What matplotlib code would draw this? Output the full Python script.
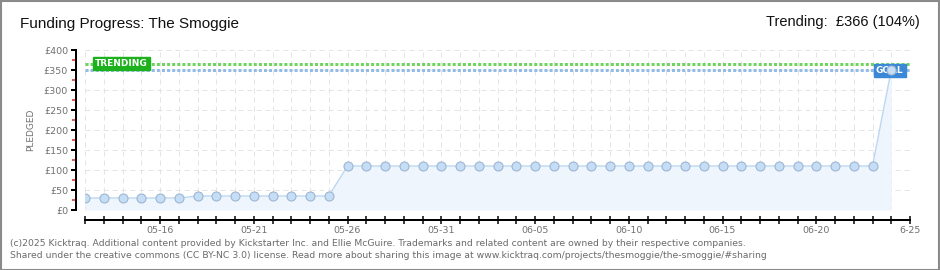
import matplotlib
matplotlib.use("Agg")
import matplotlib.pyplot as plt
import matplotlib.dates as mdates
import pandas as pd
from matplotlib.patches import Rectangle

# ---- data ----
start_date = "2025-05-12"
end_date = "2025-06-25"
pledged = [30, 30, 30, 30, 30, 30,
           35, 35, 35, 35, 35, 35, 35, 35,
           110, 110, 110, 110, 110, 110, 110, 110, 110, 110,
           110, 110, 110, 110, 110, 110, 110, 110, 110, 110,
           110, 110, 110, 110, 110, 110, 110, 110, 110,
           350]
goal = 350
trending = 366
y_ticks = [0, 50, 100, 150, 200, 250, 300, 350, 400]
y_tick_labels = ["£0", "£50", "£100", "£150", "£200", "£250", "£300", "£350", "£400"]
y_minor_ticks = [25, 75, 125, 175, 225, 275, 325, 375]
x_tick_dates = ["2025-05-16", "2025-05-21", "2025-05-26", "2025-05-31", "2025-06-05",
                "2025-06-10", "2025-06-15", "2025-06-20", "2025-06-25"]
x_tick_labels = ["05-16", "05-21", "05-26", "05-31", "06-05", "06-10", "06-15", "06-20", "6-25"]
title = "Funding Progress: The Smoggie"
trend_text = "Trending:  £366 (104%)"
footer1 = ("(c)2025 Kicktraq. Additional content provided by Kickstarter Inc. and Ellie McGuire. "
           "Trademarks and related content are owned by their respective companies.")
footer2 = ("Shared under the creative commons (CC BY-NC 3.0) license. Read more about sharing this "
           "image at www.kicktraq.com/projects/thesmoggie/the-smoggie/#sharing")

PX = 0.72  # points per pixel at dpi 100

dates = pd.date_range(start_date, periods=len(pledged), freq="D")

W, H = 940, 270
fig = plt.figure(figsize=(W / 100, H / 100), dpi=100)
fig.patch.set_facecolor("white")

# outer border
fig.add_artist(Rectangle((0.5 / W, 0.5 / H), 1 - 1.5 / W, 1 - 1.5 / H, transform=fig.transFigure,
                         fill=False, edgecolor="#8a8a8a", linewidth=1.5))

ax = fig.add_axes([85 / W, 60 / H, (910 - 85) / W, 160 / H])
ax.set_facecolor("white")

ax.set_xlim(pd.Timestamp(start_date), pd.Timestamp(end_date))
ax.set_ylim(0, 400)

ax.xaxis.set_minor_locator(mdates.DayLocator())
ax.set_xticks(pd.to_datetime(x_tick_dates))
ax.set_xticklabels(x_tick_labels)
ax.set_yticks(y_ticks)
ax.set_yticklabels(y_tick_labels)
ax.set_yticks(y_minor_ticks, minor=True)

# dashed grid
for d in pd.date_range(start_date, end_date, freq="D"):
    ax.axvline(d, color="#e4e4e4", lw=1 * PX, ls=(0, (5, 4)), zorder=0)
for yv in y_ticks:
    ax.axhline(yv, color="#e4e4e4", lw=1 * PX, ls=(0, (5, 4)), zorder=0)

# fill + line + markers
ax.fill_between(dates, 0, pledged, color="#eef5fd", zorder=1, lw=0)
ax.plot(dates, pledged, color="#bcd7f3", lw=1.4 * PX, zorder=2,
        marker="o", markersize=9 * PX, markerfacecolor="#c6ddf6", markeredgecolor="#9db5d2",
        markeredgewidth=1.1 * PX)

# goal and trending lines
ax.axhline(goal, color="#92bbe6", lw=3 * PX, ls=(0, (1.0, 0.7)), zorder=3)
ax.axhline(trending, color="#6fd45f", lw=3 * PX, ls=(0, (1.0, 0.7)), zorder=3)

# labels on lines
ax.text(pd.Timestamp(start_date) + pd.Timedelta(days=0.55), trending, "TRENDING",
        color="white", fontsize=6.5, fontweight="bold", va="center", ha="left", zorder=6,
        bbox=dict(boxstyle="square,pad=0.25", fc="#1db11d", ec="#1db11d"))
ax.text(dates[-1] + pd.Timedelta(days=0.65), goal - 1, "GOAL",
        color="white", fontsize=6.5, fontweight="bold", va="center", ha="right", zorder=4,
        bbox=dict(boxstyle="square,pad=0.25", fc="#3a88d6", ec="#3a88d6"))
ax.plot(dates[-1:], pledged[-1:], lw=0, marker="o", markersize=9 * PX,
        markerfacecolor="#c6ddf6", markeredgecolor="#9db5d2", markeredgewidth=1.1 * PX, zorder=5)

# spines
for s in ["top", "right"]:
    ax.spines[s].set_visible(False)
ax.spines["left"].set_position(("outward", 9 * PX))
ax.spines["bottom"].set_position(("outward", 10 * PX))
for s in ["left", "bottom"]:
    ax.spines[s].set_color("black")
    ax.spines[s].set_linewidth(2 * PX)

ax.tick_params(axis="y", which="major", direction="out", length=5 * PX, width=2 * PX,
               color="black", labelsize=6.8, labelcolor="#707070", pad=3 * PX)
ax.tick_params(axis="y", which="minor", direction="out", length=4 * PX, width=1.5 * PX,
               color="#e02020")
ax.tick_params(axis="x", which="both", direction="inout", length=8 * PX, width=1.5 * PX,
               color="black", labelsize=6.8, labelcolor="#707070", pad=2 * PX)

ax.set_ylabel("PLEDGED", fontsize=6.5, color="#707070", labelpad=9 * PX)

# header texts
fig.text(20 / W, 1 - 24 / H, title, fontsize=11, color="#111111", va="center", ha="left",
         family="Liberation Sans")
fig.text(920 / W, 1 - 22 / H, trend_text, fontsize=10.5, color="#111111", va="center",
         ha="right", family="Liberation Sans")

# footer
fig.text(10 / W, 1 - 243 / H, footer1, fontsize=6.7, color="#6a6a6a", va="center", ha="left")
fig.text(10 / W, 1 - 256 / H, footer2, fontsize=6.7, color="#6a6a6a", va="center", ha="left")

fig.savefig("out.png", dpi=100)
